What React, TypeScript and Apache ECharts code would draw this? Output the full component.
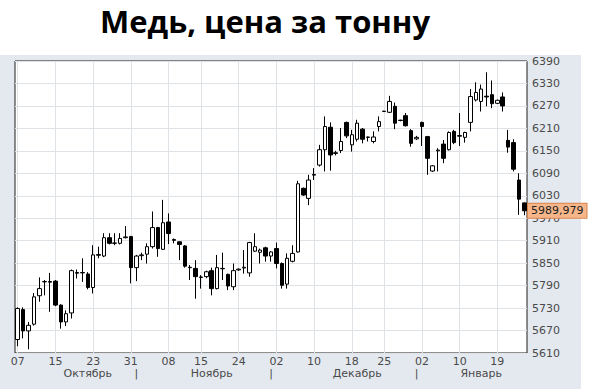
import React, { useEffect, useRef } from "react";
import * as echarts from "echarts";

// Trading days (Mon–Fri and Sunday sessions), 07.10.2019 – 24.01.2020
const dates: string[] = [
  "07.10", "08.10", "09.10", "10.10", "11.10", "13.10", "14.10", "15.10", "16.10", "17.10", "18.10", "20.10",
  "21.10", "22.10", "23.10", "24.10", "25.10", "27.10", "28.10", "29.10", "30.10", "31.10",
  "01.11", "03.11", "04.11", "05.11", "06.11", "07.11", "08.11", "10.11", "11.11", "12.11", "13.11", "14.11",
  "15.11", "17.11", "18.11", "19.11", "20.11", "21.11", "22.11", "24.11", "25.11", "26.11", "27.11", "28.11", "29.11",
  "01.12", "02.12", "03.12", "04.12", "05.12", "06.12", "08.12", "09.12", "10.12", "11.12", "12.12", "13.12",
  "15.12", "16.12", "17.12", "18.12", "19.12", "20.12", "22.12", "23.12", "24.12", "25.12", "26.12", "27.12",
  "29.12", "30.12", "31.12",
  "01.01", "02.01", "03.01", "05.01", "06.01", "07.01", "08.01", "09.01", "10.01", "12.01", "13.01", "14.01",
  "15.01", "16.01", "17.01", "19.01", "20.01", "21.01", "22.01", "23.01", "24.01",
];

const opens: number[] = [
  5646, 5726, 5669, 5687, 5763, 5800, 5799, 5802, 5738, 5693,
  5717, 5823, 5825, 5821, 5785, 5871, 5869, 5918, 5903, 5903,
  5918, 5921, 5838, 5870, 5874, 5894, 5945, 5887, 5960, 5913,
  5907, 5896, 5839, 5836, 5813, 5814, 5830, 5782, 5835, 5820,
  5787, 5832, 5837, 5824, 5882, 5879, 5891, 5869, 5889, 5849,
  5794, 5855, 5880, 6050, 6023, 6085, 6112, 6153, 6213, 6143,
  6151, 6226, 6166, 6181, 6208, 6186, 6175, 6215, 6255, 6253,
  6269, 6231, 6244, 6204, 6182, 6226, 6188, 6096, 6150, 6168,
  6153, 6202, 6189, 6186, 6226, 6286, 6282, 6296, 6300, 6277,
  6294, 6178, 6172, 6072, 6011,
];
const closes: number[] = [
  5729, 5669, 5684, 5760, 5782, 5801, 5801, 5738, 5693, 5715,
  5830, 5825, 5824, 5785, 5872, 5873, 5918, 5903, 5904, 5916,
  5920, 5838, 5869, 5872, 5894, 5945, 5889, 5958, 5929, 5911,
  5900, 5842, 5838, 5814, 5812, 5827, 5782, 5838, 5836, 5789,
  5830, 5834, 5839, 5905, 5894, 5885, 5869, 5880, 5849, 5791,
  5863, 5876, 6062, 6032, 6072, 6087, 6153, 6215, 6139, 6145,
  6175, 6190, 6193, 6224, 6181, 6187, 6187, 6228, 6256, 6282,
  6224, 6232, 6217, 6170, 6186, 6215, 6130, 6110, 6152, 6130,
  6199, 6172, 6191, 6199, 6295, 6306, 6315, 6294, 6276, 6285,
  6270, 6160, 6101, 6021, 5989.979,
];
const lows: number[] = [
  5628, 5649, 5620, 5683, 5747, 5764, 5720, 5735, 5675, 5682,
  5702, 5809, 5800, 5780, 5769, 5863, 5866, 5900, 5898, 5900,
  5916, 5796, 5802, 5858, 5849, 5889, 5867, 5885, 5901, 5903,
  5858, 5838, 5805, 5755, 5782, 5810, 5764, 5780, 5805, 5778,
  5778, 5830, 5822, 5814, 5880, 5849, 5854, 5854, 5836, 5782,
  5782, 5852, 5878, 6030, 6005, 6072, 6108, 6095, 6097, 6138,
  6144, 6184, 6148, 6175, 6170, 6175, 6170, 6202, 6254, 6251,
  6208, 6229, 6215, 6161, 6179, 6163, 6086, 6094, 6095, 6117,
  6151, 6168, 6163, 6172, 6202, 6282, 6255, 6269, 6264, 6275,
  6255, 6145, 6095, 5979, 5978,
];
const highs: number[] = [
  5732, 5732, 5693, 5770, 5812, 5805, 5824, 5805, 5740, 5724,
  5833, 5833, 5863, 5826, 5898, 5894, 5930, 5930, 5930, 5930,
  5949, 5923, 5872, 5878, 5903, 5988, 5947, 6019, 5983, 5916,
  5908, 5898, 5845, 5858, 5818, 5830, 5838, 5872, 5878, 5822,
  5849, 5836, 5885, 5907, 5930, 5889, 5894, 5882, 5905, 5852,
  5876, 5898, 6070, 6052, 6086, 6104, 6166, 6242, 6226, 6150,
  6211, 6228, 6206, 6233, 6211, 6188, 6202, 6242, 6257, 6297,
  6279, 6233, 6251, 6208, 6190, 6228, 6190, 6112, 6157, 6179,
  6202, 6206, 6251, 6201, 6315, 6333, 6327, 6360, 6338, 6287,
  6306, 6206, 6181, 6090, 6012,
];

const tickDates: string[] = [
  "07.10", "15.10", "23.10", "31.10", "08.11", "15.11", "24.11",
  "02.12", "10.12", "18.12", "25.12", "02.01", "10.01", "19.01",
];
const monthNames: string[] = ["Октябрь", "Ноябрь", "Декабрь", "Январь"];
const monthLabelAt: string[] = ["22.10", "18.11", "19.12", "15.01"];
const monthStarts: string[] = ["01.11", "01.12", "01.01"];

const yMin = 5610;
const yMax = 6390;
const yStep = 60;
const titleText = "Медь, цена за тонну";

const AXIS_FONT = "DejaVu Sans";
const AXIS_COLOR = "#4a4a4a";

export default function App() {
  const ref = useRef<HTMLDivElement>(null);

  useEffect(() => {
    if (!ref.current) return;
    const chart = echarts.init(ref.current, null, { renderer: "svg" });

    const ohlc = dates.map((_, i) => [opens[i], closes[i], lows[i], highs[i]]);
    const tickSet = new Set(tickDates);
    const bottomMap = new Map<string, string>();
    monthLabelAt.forEach((d, i) => bottomMap.set(d, monthNames[i]));
    monthStarts.forEach((d) => bottomMap.set(d, "|"));
    const lastClose = closes[closes.length - 1];

    chart.setOption({
      animation: false,
      graphic: [
        {
          type: "text",
          x: 265,
          y: 5,
          style: {
            text: titleText,
            fill: "#000",
            font: '700 31px "Open Sans"',
            align: "center",
            verticalAlign: "top",
            textAlign: "center",
            textVerticalAlign: "top",
          },
        },
      ],
      grid: {
        left: 15,
        top: 61,
        width: 512,
        height: 292,
        show: true,
        backgroundColor: "#ffffff",
        borderColor: "#1e1e1e",
        borderWidth: 1,
        containLabel: false,
      },
      xAxis: [
        {
          type: "category",
          data: dates,
          boundaryGap: true,
          axisLine: { show: false },
          axisTick: { show: false },
          axisLabel: {
            interval: (_i: number, v: string) => tickSet.has(v),
            formatter: (v: string) => v.slice(0, 2),
            margin: 3,
            color: AXIS_COLOR,
            fontSize: 11,
            fontFamily: AXIS_FONT,
          },
          splitLine: {
            show: true,
            interval: (_i: number, v: string) => tickSet.has(v),
            alignWithLabel: true,
            lineStyle: { color: "#dfe2e7", width: 1 },
          },
        },
        {
          type: "category",
          data: dates,
          position: "bottom",
          boundaryGap: true,
          axisLine: { show: false },
          axisTick: { show: false },
          splitLine: { show: false },
          axisLabel: {
            interval: (_i: number, v: string) => bottomMap.has(v),
            formatter: (v: string) => bottomMap.get(v) || "",
            margin: 15,
            color: AXIS_COLOR,
            fontSize: 11,
            fontFamily: AXIS_FONT,
          },
        },
      ],
      yAxis: {
        type: "value",
        position: "right",
        min: yMin,
        max: yMax,
        interval: yStep,
        axisLine: { show: false },
        axisTick: { show: false },
        axisLabel: {
          margin: 5,
          color: AXIS_COLOR,
          fontSize: 11,
          fontFamily: AXIS_FONT,
          formatter: (v: number) => String(v),
        },
        splitLine: { lineStyle: { color: "#dfe2e7", width: 1 } },
      },
      series: [
        {
          type: "candlestick",
          data: ohlc,
          barWidth: 4,
          itemStyle: {
            color: "#ffffff",
            color0: "#000000",
            borderColor: "#000000",
            borderColor0: "#000000",
            borderColorDoji: "#000000",
            borderWidth: 1,
          },
          markLine: {
            silent: true,
            symbol: ["none", "none"],
            lineStyle: { color: "rgba(0,0,0,0)", width: 0 },
            label: {
              show: true,
              position: "end",
              distance: 1,
              formatter: () => lastClose.toFixed(3).replace(".", ","),
              backgroundColor: "#f7b68a",
              borderColor: "#d9834b",
              borderWidth: 1,
              padding: [2, 3, 1, 3],
              color: "#222",
              fontSize: 11,
              fontFamily: AXIS_FONT,
            },
            data: [{ yAxis: lastClose }],
          },
        },
      ],
    });

    return () => chart.dispose();
  }, []);

  return (
    <div
      style={{
        position: "fixed",
        left: 0,
        top: 0,
        width: 590,
        height: 389,
        background: "#ffffff",
        overflow: "hidden",
      }}
    >
      <div
        style={{
          position: "absolute",
          left: 0,
          top: 55,
          width: 581,
          height: 334,
          background: "#e4e9f0",
        }}
      />
      <div
        ref={ref}
        style={{ position: "absolute", left: 0, top: 0, width: 590, height: 389 }}
      />
    </div>
  );
}
